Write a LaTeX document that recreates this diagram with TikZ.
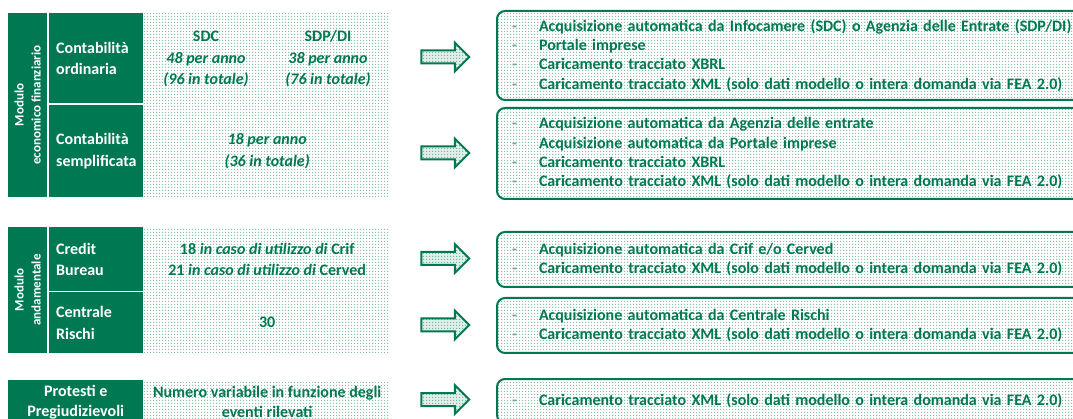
\documentclass[tikz,border=0pt]{standalone}
\usepackage{fontspec}
\setmainfont{Carlito}
\usetikzlibrary{shapes.arrows,patterns.meta}

\definecolor{mccgreen}{RGB}{0,121,82}
\definecolor{dotgreen}{RGB}{140,190,165}
\definecolor{dashgreen}{RGB}{120,165,142}

\tikzdeclarepattern{
  name=dotgrid,
  type=uncolored,
  bounding box={(0pt,0pt) and (3pt,3pt)},
  tile size={(3pt,3pt)},
  code={\pgfpathrectangle{\pgfpointorigin}{\pgfpoint{1.4pt}{1.4pt}}\pgfusepath{fill}}
}

\newcommand{\voce}[1]{\makebox[27pt][l]{\textcolor{dashgreen}{-}}#1}

\begin{document}
\begin{tikzpicture}[x=1pt,y=-1pt,
    font=\fontsize{16}{21.5}\selectfont\bfseries,
    darkcell/.style={fill=mccgreen, text=white, inner sep=0pt, anchor=north west},
    dotcell/.style={preaction={fill=white}, pattern=dotgrid, pattern color=dotgreen,
      inner sep=0pt, anchor=north west, text=mccgreen},
    infobox/.style={draw=mccgreen, line width=2pt, rounded corners=8pt,
      preaction={fill=white}, pattern=dotgrid, pattern color=dotgreen,
      text=mccgreen, anchor=north west, minimum width=620pt, text width=590pt,
      inner xsep=15pt, inner ysep=0pt, align=left,
      font=\fontsize{16}{19.3}\selectfont\bfseries},
    blockarrow/.style={single arrow, draw=mccgreen, line width=2pt,
      preaction={fill=mccgreen!12}, pattern=dotgrid, pattern color=mccgreen!55,
      minimum height=48pt, inner xsep=0pt, inner ysep=5.5pt,
      single arrow head extend=8pt}]

    \clip (0,0) rectangle (1073,419);

    \def\Xmod{8};
    \def\Xsub{49};
    \def\Xdot{144};
    \def\Xarr{442}; % arrows
    \def\Xbox{496}; % rounded boxes

    % modulo economico finanziario
    \node[darkcell, anchor=center, rotate=90, minimum width=184pt, minimum height=39pt,
      align=center, font=\fontsize{13}{17}\selectfont\bfseries] (mef) at (27.5,105)
      {Modulo\\economico finanziario};

    \node[darkcell, minimum width=94pt, minimum height=90pt, text width=80pt,
      inner xsep=7pt, align=left] (cord) at (\Xsub,13) {Contabilità\\ordinaria};
    \node[darkcell, minimum width=94pt, minimum height=92pt, text width=80pt,
      inner xsep=7pt, align=left] (csem) at (\Xsub,105) {Contabilità\\semplificata};

    \node[dotcell, minimum width=246pt, minimum height=90pt] (dord) at (\Xdot,13) {};
    \node[text=mccgreen, align=center] (sdc) at (206,59)
      {SDC\\\textit{48 per anno}\\\textit{(96 in totale)}};
    \node[text=mccgreen, align=center] (sdp) at (328,59)
      {SDP/DI\\\textit{38 per anno}\\\textit{(76 in totale)}};
    \node[dotcell, minimum width=246pt, minimum height=92pt, align=center] (dsem) at (\Xdot,105)
      {\textit{18 per anno}\\\textit{(36 in totale)}};

    % modulo andamentale
    \node[darkcell, anchor=center, rotate=90, minimum width=126pt, minimum height=39pt,
      align=center, font=\fontsize{13}{17}\selectfont\bfseries] (mand) at (27.5,290)
      {Modulo\\andamentale};

    \node[darkcell, minimum width=94pt, minimum height=64pt, text width=80pt,
      inner xsep=7pt, align=left] (cb) at (\Xsub,227) {Credit\\Bureau};
    \node[darkcell, minimum width=94pt, minimum height=61pt, text width=80pt,
      inner xsep=7pt, align=left] (cr) at (\Xsub,292) {Centrale\\Rischi};

    \node[dotcell, minimum width=246pt, minimum height=64pt, align=center] (dcb) at (\Xdot,227)
      {18 \textit{in caso di utilizzo di} Crif\\21 \textit{in caso di utilizzo di} Cerved};
    \node[dotcell, minimum width=246pt, minimum height=61pt] (dcr) at (\Xdot,292) {30};

    % protesti
    \node[darkcell, minimum width=135pt, minimum height=44pt, align=center,
      font=\fontsize{16}{20}\selectfont\bfseries] (prot) at (\Xmod,380) {Protesti e\\Pregiudizievoli};
    \node[dotcell, minimum width=246pt, minimum height=44pt, align=center,
      font=\fontsize{16}{20}\selectfont\bfseries] (dprot) at (\Xdot,380)
      {Numero variabile in funzione degli\\eventi rilevati};

    % arrows
    \node[blockarrow] (f1) at (\Xarr,57) {};
    \node[blockarrow] (f2) at (\Xarr,153) {};
    \node[blockarrow] (f3) at (\Xarr,258.5) {};
    \node[blockarrow] (f4) at (\Xarr,325) {};
    \node[blockarrow] (f5) at (\Xarr,399.5) {};

    % rounded boxes
    \node[infobox, minimum height=89pt] (b1) at (\Xbox,10)
      {\voce{Acquisizione automatica da Infocamere (SDC) o Agenzia delle Entrate (SDP/DI)*}\\
       \voce{Portale imprese}\\
       \voce{Caricamento tracciato XBRL}\\
       \voce{Caricamento tracciato XML (solo dati modello o intera domanda via FEA 2.0)}};
    \node[infobox, minimum height=91pt] (b2) at (\Xbox,107)
      {\voce{Acquisizione automatica da Agenzia delle entrate}\\
       \voce{Acquisizione automatica da Portale imprese}\\
       \voce{Caricamento tracciato XBRL}\\
       \voce{Caricamento tracciato XML (solo dati modello o intera domanda via FEA 2.0)}};
    \node[infobox, minimum height=55pt] (b3) at (\Xbox,231)
      {\voce{Acquisizione automatica da Crif e/o Cerved}\\
       \voce{Caricamento tracciato XML (solo dati modello o intera domanda via FEA 2.0)}};
    \node[infobox, minimum height=55pt] (b4) at (\Xbox,297)
      {\voce{Acquisizione automatica da Centrale Rischi}\\
       \voce{Caricamento tracciato XML (solo dati modello o intera domanda via FEA 2.0)}};
    \node[infobox, minimum height=44pt] (b5) at (\Xbox,378)
      {\voce{Caricamento tracciato XML (solo dati modello o intera domanda via FEA 2.0)}};

\end{tikzpicture}
\end{document}
